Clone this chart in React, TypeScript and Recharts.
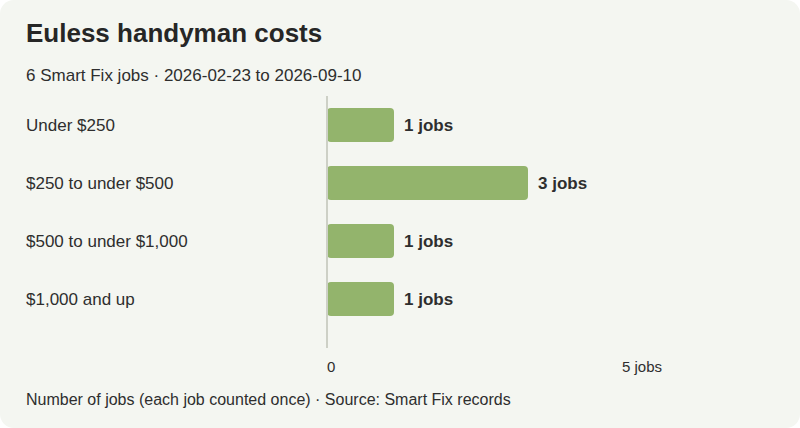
import React from "react";
import { BarChart, Bar, XAxis, YAxis, LabelList } from "recharts";

const categories = ["Under $250", "$250 to under $500", "$500 to under $1,000", "$1,000 and up"];
const jobCounts = [1, 3, 1, 1];
const xTicks = [0, 5];
const xTickLabels = ["0", "5 jobs"];

const TITLE = "Euless handyman costs";
const SUBTITLE = "6 Smart Fix jobs · 2026-02-23 to 2026-09-10";
const FOOTER = "Number of jobs (each job counted once) · Source: Smart Fix records";

const data = categories.map((c, i) => ({ category: c, jobs: jobCounts[i] }));

const FONT = "'Liberation Sans', Arial, Helvetica, sans-serif";
const BG = "#f4f6f1";
const BAR = "#93b46c";
const TEXT = "#2e2e2e";
const AXIS = "#cdd0c6";

const W = 800;
const H = 428;
const MARGIN = { top: 96, right: 138, bottom: 50, left: 26 };
const Y_AXIS_WIDTH = 301;

const YTick = (props: any) => {
  const { y, payload } = props;
  return (
    <text x={MARGIN.left} y={y} dy="0.35em" textAnchor="start" fontSize={17} fill={TEXT} fontFamily={FONT}>
      {payload.value}
    </text>
  );
};

const XTick = (props: any) => {
  const { x, y, payload, index } = props;
  const label = xTickLabels[xTicks.indexOf(payload.value)] ?? String(payload.value);
  return (
    <text x={x} y={y} dy={24} textAnchor={index === 0 ? "start" : "end"} fontSize={15} fill={TEXT} fontFamily={FONT}>
      {label}
    </text>
  );
};

export default function App() {
  return (
    <div
      style={{
        position: "absolute",
        left: 0,
        top: 0,
        width: W,
        height: H,
        background: BG,
        borderRadius: 14,
        fontFamily: FONT,
        color: TEXT,
        overflow: "hidden",
      }}
    >
      <div style={{ position: "absolute", left: 26, top: 20, fontSize: 26, lineHeight: 1, fontWeight: 700, color: "#262626", whiteSpace: "nowrap" }}>
        {TITLE}
      </div>
      <div style={{ position: "absolute", left: 26, top: 67, fontSize: 17, lineHeight: 1, whiteSpace: "nowrap" }}>
        {SUBTITLE}
      </div>
      <div style={{ position: "absolute", left: 0, top: 0 }}>
        <BarChart width={W} height={H} data={data} layout="vertical" margin={MARGIN}>
          <XAxis
            type="number"
            domain={[0, 5]}
            ticks={xTicks}
            axisLine={false}
            tickLine={false}
            tickSize={0}
            tickMargin={0}
            height={30}
            tick={<XTick />}
            interval={0}
          />
          <YAxis
            type="category"
            dataKey="category"
            width={Y_AXIS_WIDTH}
            axisLine={{ stroke: AXIS, strokeWidth: 2 }}
            tickLine={false}
            tick={<YTick />}
            padding={{ top: 0, bottom: 20 }}
            interval={0}
          />
          <Bar dataKey="jobs" fill={BAR} barSize={34} radius={4} isAnimationActive={false}>
            <LabelList
              dataKey="jobs"
              position="right"
              offset={10}
              formatter={(v: any) => `${v} jobs`}
              style={{ fontSize: 17, fontWeight: 700, fill: TEXT, fontFamily: FONT }}
            />
          </Bar>
        </BarChart>
      </div>
      <div style={{ position: "absolute", left: 26, top: 392, fontSize: 16, lineHeight: 1, whiteSpace: "nowrap" }}>
        {FOOTER}
      </div>
    </div>
  );
}
